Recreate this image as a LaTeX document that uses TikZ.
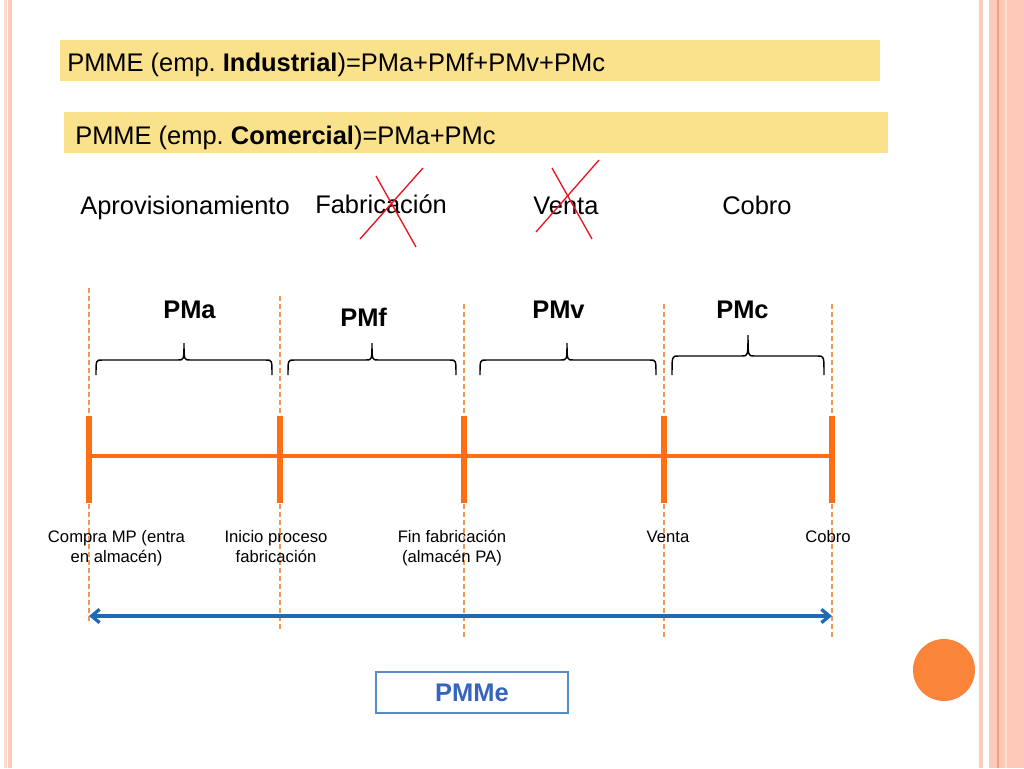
\documentclass[tikz,border=0pt]{standalone}
\usepackage{fontspec}
\setmainfont{Liberation Sans}
\usetikzlibrary{arrows.meta}
\frenchspacing
\definecolor{ybox}{RGB}{250,225,140}
\definecolor{tlorange}{RGB}{255,110,20}
\definecolor{dashorange}{RGB}{238,150,95}
\definecolor{arrowblue}{RGB}{30,106,180}
\definecolor{pmmeborder}{RGB}{90,138,200}
\definecolor{pmmetext}{RGB}{55,100,190}
\definecolor{stripe}{RGB}{252,202,182}
\definecolor{stripedark}{RGB}{240,160,125}
\definecolor{dotorange}{RGB}{250,132,58}
\definecolor{xred}{RGB}{230,20,30}
\newcommand\bigfont{\fontsize{19.1}{23}\selectfont}
\newcommand\smallfont{\fontsize{12.5}{15}\selectfont}
\newcommand\cbrace[6]{%
  \draw[bracestyle] (#1,#4) .. controls (#1,#5) and (#1,#5) .. ({#1+6},#5)
    -- ({#3-6},#5) .. controls (#3,#5) and (#3,#5) .. (#3,#6)
    .. controls (#3,#5) and (#3,#5) .. ({#3+6},#5)
    -- ({#2-6},#5) .. controls (#2,#5) and (#2,#5) .. (#2,#4);}
\tikzset{
  txt/.style={inner sep=0pt, anchor=base west, font=\bigfont},
  bigbold/.style={inner sep=0pt, anchor=base west, font=\bigfont\bfseries},
  smalllab/.style={inner sep=0pt, anchor=north, align=center, font=\smallfont},
  yellowbar/.style={fill=ybox, draw=none},
  tick/.style={draw=tlorange, line width=3.8pt},
  axis/.style={draw=tlorange, line width=3pt},
  guide/.style={draw=dashorange, line width=1.1pt, dash pattern=on 3.6pt off 2.4pt},
  bracestyle/.style={draw=black, line width=1.1pt},
  cross/.style={draw=xred, line width=1pt},
  span/.style={draw=arrowblue, line width=2.5pt, {Straight Barb[length=6pt,width=10pt]}-{Straight Barb[length=6pt,width=10pt]}},
  pmmebox/.style={draw=pmmeborder, line width=1.5pt, minimum width=144pt, minimum height=30.75pt, inner sep=0pt, font=\bigfont\bfseries, text=pmmetext},
}
\begin{document}
\begin{tikzpicture}[x=0.75pt,y=-0.75pt]
\useasboundingbox (0,0) rectangle (1024,768);
\fill[white] (0,0) rectangle (1024,768);
% side decorations
\fill[stripe!70] (4,0) rectangle (7,768);
\fill[stripe] (8,0) rectangle (12,768);
\fill[stripe] (979,0) rectangle (983,768);
\fill[stripe] (989,0) rectangle (1024,768);
\draw[stripedark, line width=0.8pt] (998,0) -- (998,768);
\draw[stripe!60!white, line width=0.8pt] (1006,0) -- (1006,768);
\node[circle, fill=dotorange, minimum size=46.5pt, inner sep=0pt] (dot) at (944,670) {};
% header bars
\fill[yellowbar] (60,40) rectangle (880,81);
\node[txt] (h1) at (67,71) {PMME (emp. \textbf{Industrial})=PMa+PMf+PMv+PMc};
\fill[yellowbar] (64,112) rectangle (888,153);
\node[txt] (h2) at (75,144) {PMME (emp. \textbf{Comercial})=PMa+PMc};
% phase labels
\node[txt] (apro) at (80,214) {Aprovisionamiento};
\node[txt] (fab) at (315,213) {Fabricación};
\node[txt] (ven) at (533,214) {Venta};
\node[txt] (cob) at (722,214) {Cobro};
\draw[cross] (360,239) -- (423,168);
\draw[cross] (376,176) -- (416,247);
\draw[cross] (536,232) -- (599,160);
\draw[cross] (552,168) -- (592,239);
% guide lines
\draw[guide] (89,288) -- (89,623);
\draw[guide] (280,296) -- (280,632);
\draw[guide] (464,304) -- (464,639);
\draw[guide] (664,304) -- (664,639);
\draw[guide] (832,304) -- (832,639);
% timeline
\coordinate (t1) at (89,456);
\coordinate (t2) at (280,456);
\coordinate (t3) at (464,456);
\coordinate (t4) at (664,456);
\coordinate (t5) at (832,456);
\draw[axis] (t1) -- (t5);
\foreach \t in {t1,t2,t3,t4,t5} {\draw[tick] ([yshift=30pt]\t) -- ([yshift=-35.25pt]\t);}
% braces
\cbrace{96}{272}{184}{375}{360}{343}
\cbrace{288}{456}{372}{375}{360}{343}
\cbrace{480}{656}{567}{375}{360}{343}
\cbrace{672}{824}{748}{375}{356}{335}
\node[bigbold] (pma) at (163,318) {PMa};
\node[bigbold] (pmf) at (340,326) {PMf};
\node[bigbold] (pmv) at (532,318) {PMv};
\node[bigbold] (pmc) at (716,318) {PMc};
% bottom labels
\node[smalllab] (l1) at (116.5,528) {\strut Compra MP (entra\\en almacén)};
\node[smalllab] (l2) at (276,528) {\strut Inicio proceso\\fabricación};
\node[smalllab] (l3) at (452,528) {\strut Fin fabricación\\(almacén PA)};
\node[smalllab] (l4) at (668,528) {\strut Venta};
\node[smalllab] (l5) at (828,528) {\strut Cobro};
% span arrow
\coordinate (a1) at (89,616);
\coordinate (a5) at (832,616);
\draw[span] (a1) -- (a5);
\node[pmmebox] (pmme) at (472,692.5) {PMMe};
\end{tikzpicture}
\end{document}
